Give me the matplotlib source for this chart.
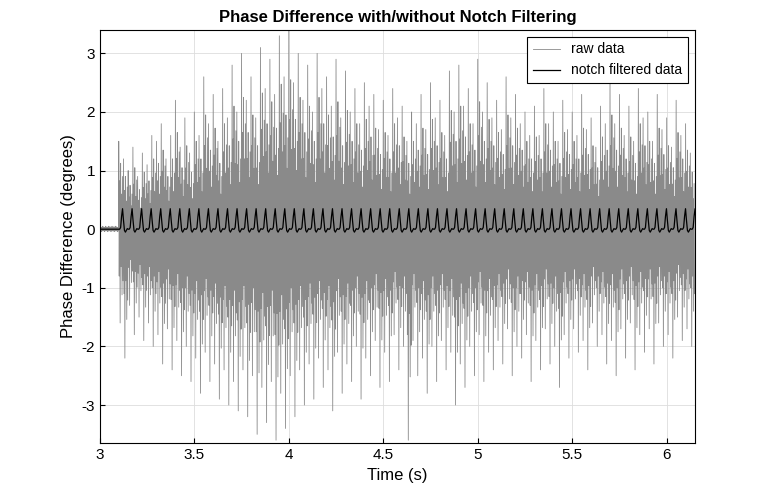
import numpy as np
import matplotlib.pyplot as plt
plt.rcParams['font.family'] = ['Liberation Sans', 'DejaVu Sans']
plt.rcParams['axes.unicode_minus'] = False

# upper / lower spike envelopes of raw data, every 0.025 s from 3.10 s
up = [1.5,1.2,1.0,1.4,0.9,1.3,1.1,1.6, 1.5,1.8,1.2,1.6,2.2,1.4,1.9,1.3,
      2.0,1.6,2.6,1.8,2.3,1.5,2.4,1.9, 2.8,2.0,3.0,2.2,2.6,1.9,3.1,2.4,
      2.9,2.3,3.3,2.6,3.4,2.5,3.0,2.2, 2.8,2.0,3.0,2.4,2.6,2.1,2.9,1.9,
      2.7,2.0,2.4,1.8,2.5,2.1,2.3,1.7, 2.2,1.6,2.4,1.9,2.1,1.5,2.0,1.8,
      2.3,1.7,2.5,1.9,2.2,1.6,2.7,2.0, 2.8,2.1,2.4,1.8,2.9,2.0,2.5,1.9,
      2.2,1.7,2.6,1.9,2.3,1.8,2.0,1.6, 2.1,1.6,2.4,1.8,2.0,1.5,2.2,1.7,
      2.0,1.6,2.3,1.7,1.9,1.4,2.1,1.8, 2.6,1.8,2.3,1.6,2.1,1.5,2.4,1.9,
      2.0,1.5,2.3,1.7,1.9,1.4,2.2,1.6,1.8,1.3]
lo = [1.6,2.2,1.3,1.8,1.5,1.9,1.6,2.0, 1.8,2.3,1.7,2.4,1.9,2.5,2.0,2.6,
      2.2,2.8,2.1,2.6,2.3,2.9,2.4,3.0, 2.6,3.1,2.4,3.2,2.5,3.5,2.7,3.3,
      2.6,3.6,2.8,3.4,2.5,3.2,2.4,3.0, 2.3,2.9,2.2,2.7,2.4,3.1,2.1,2.8,
      2.3,2.6,2.0,2.9,2.2,2.5,1.9,2.7, 2.1,2.6,1.8,2.4,2.0,3.6,1.9,2.5,
      2.2,2.8,2.0,2.6,1.9,2.4,2.1,3.0, 2.3,2.7,2.0,2.5,1.8,2.6,2.1,2.4,
      1.9,2.3,1.7,2.5,2.0,2.2,1.8,2.6, 1.9,2.4,1.7,2.3,2.0,2.7,1.8,2.2,
      1.7,2.1,1.9,2.4,1.6,2.0,1.8,2.3, 1.9,2.5,1.7,2.2,1.6,2.4,1.8,2.1,
      1.7,2.3,1.6,2.0,1.8,2.2,1.5,1.9,1.7,2.0]
pos_pattern = [1.0, 0.55, 0.75, 0.4, 0.6]
neg_pattern = [0.5, 1.0, 0.4, 0.7, 0.55]
pre_noise = [0.03,-0.02,0.04,-0.03,0.02,-0.04,0.03,-0.02,0.05,-0.03]

notch_pulse = [0.0, 0.03, 0.22, 0.35, 0.15, -0.02, -0.05, -0.02, 0.01, 0.0]
n_pulses = 61
pulse_period = 0.0505

t0, step = 3.10, 0.025
ts, vs = [], []
pre_t = np.linspace(3.0, 3.1, 60)
for i, t in enumerate(pre_t):
    ts.append(t); vs.append(pre_noise[i % len(pre_noise)])
n = len(pos_pattern)
for i in range(len(up)):
    for j in range(n):
        ts.append(t0 + i*step + (2*j)*step/(2*n))
        vs.append(up[i]*pos_pattern[j])
        ts.append(t0 + i*step + (2*j+1)*step/(2*n))
        vs.append(-lo[i]*neg_pattern[j])

nt, nv = [], []
for t in pre_t:
    nt.append(t); nv.append(0.0)
for k in range(n_pulses):
    for j, v in enumerate(notch_pulse):
        nt.append(3.105 + k*pulse_period + j*pulse_period/len(notch_pulse))
        nv.append(v)

fig = plt.figure(figsize=(7.68, 4.99), dpi=100)
ax = fig.add_axes([0.13, 0.112, 0.775, 0.828])
ax.plot(ts, vs, color='#8a8a8a', lw=0.6, label='raw data')
ax.plot(nt, nv, color='black', lw=0.9, label='notch filtered data')
ax.set_xlim(3, 6.15)
ax.set_ylim(-3.65, 3.4)
ax.set_xticks([3, 3.5, 4, 4.5, 5, 5.5, 6])
ax.set_xticklabels(['3', '3.5', '4', '4.5', '5', '5.5', '6'])
ax.set_yticks([-3, -2, -1, 0, 1, 2, 3])
ax.grid(True, color='#dddddd', lw=0.6)
ax.tick_params(direction='in', labelsize=11)
ax.set_xlabel('Time (s)', fontsize=12)
ax.set_ylabel('Phase Difference (degrees)', fontsize=12)
ax.set_title('Phase Difference with/without Notch Filtering', fontsize=12, fontweight='bold')
leg = ax.legend(loc='upper right', fontsize=10, fancybox=False, framealpha=1, edgecolor='black')
leg.get_frame().set_linewidth(0.8)
fig.savefig('out.png', dpi=100)
